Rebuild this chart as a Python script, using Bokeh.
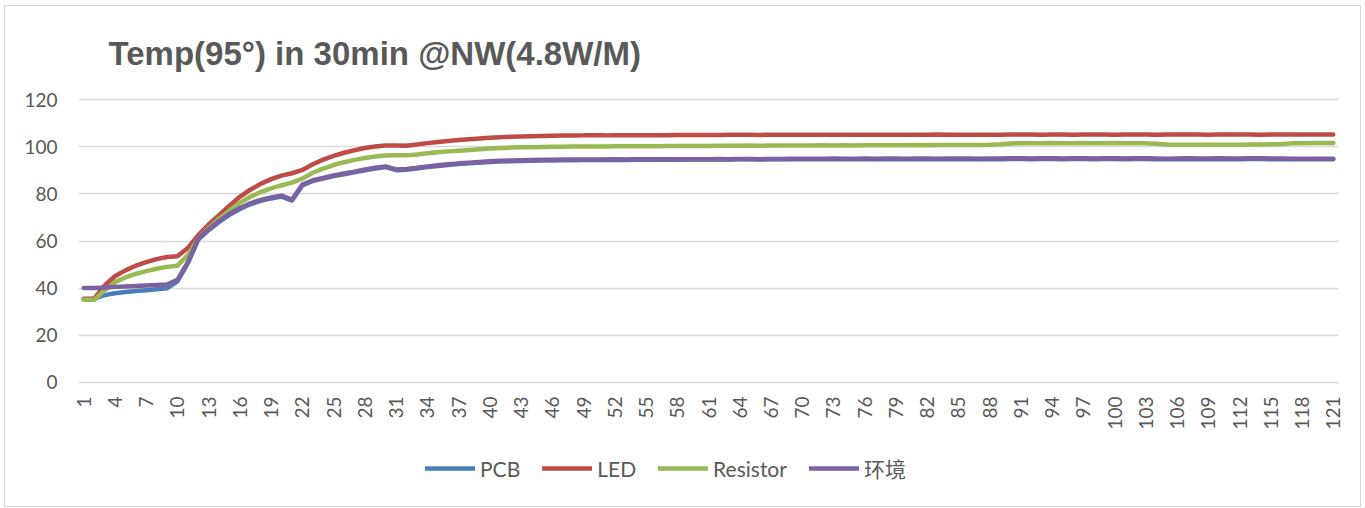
import math
from bokeh.plotting import figure
from bokeh.layouts import column
from bokeh.models import Range1d, FixedTicker, Legend, LegendItem
from bokeh.embed import file_html
from bokeh.resources import INLINE

title_text = "Temp(95°) in 30min @NW(4.8W/M)"

x_index = list(range(1, 122))
x_ticks = list(range(1, 122, 3))
y_ticks = [0, 20, 40, 60, 80, 100, 120]

pcb = [35.0, 35.5, 37.0, 37.8, 38.3, 38.7, 39.1, 39.5, 39.9, 42.8,
       50.5, 60.6, 64.6, 68.1, 71.1, 73.6, 75.6, 77.1, 78.1, 78.9,
       77.2, 83.6, 85.5, 86.5, 87.6, 88.4, 89.2, 90.1, 90.8, 91.4,
       90.1, 90.3, 90.8, 91.4, 91.9, 92.3, 92.7, 93.0, 93.3, 93.6,
       93.8, 93.9, 94.0, 94.1, 94.2, 94.2, 94.3, 94.3, 94.4, 94.4,
       94.4, 94.5, 94.4, 94.5, 94.5, 94.5, 94.6, 94.5, 94.6, 94.6,
       94.6, 94.7, 94.6, 94.7, 94.7, 94.6, 94.7, 94.7, 94.7, 94.7,
       94.7, 94.7, 94.8, 94.7, 94.7, 94.8, 94.7, 94.8, 94.8, 94.7,
       94.8, 94.8, 94.7, 94.8, 94.8, 94.8, 94.7, 94.8, 94.8, 94.9,
       94.9, 94.8, 94.9, 94.9, 94.8, 94.9, 94.9, 94.8, 94.9, 94.9,
       94.8, 94.9, 94.9, 94.8, 94.7, 94.8, 94.9, 94.8, 94.8, 94.9,
       94.8, 94.8, 94.9, 94.9, 94.8, 94.8, 94.7, 94.7, 94.7, 94.7, 94.7]

led = [35.5, 35.5, 41.0, 45.0, 47.5, 49.5, 51.0, 52.3, 53.2, 53.5,
       57.0, 62.5, 67.0, 71.0, 75.0, 78.8, 81.8, 84.3, 86.3, 87.8,
       88.8, 90.2, 92.6, 94.6, 96.2, 97.5, 98.6, 99.5, 100.2, 100.6,
       100.6, 100.5, 101.0, 101.6, 102.1, 102.5, 102.9, 103.3, 103.6, 103.9,
       104.1, 104.3, 104.4, 104.5, 104.6, 104.7, 104.8, 104.8, 104.9, 104.9,
       104.9, 105.0, 105.0, 105.0, 105.0, 105.0, 105.0, 105.1, 105.1, 105.1,
       105.1, 105.1, 105.2, 105.2, 105.2, 105.1, 105.2, 105.2, 105.2, 105.2,
       105.2, 105.2, 105.2, 105.2, 105.2, 105.2, 105.2, 105.2, 105.2, 105.2,
       105.2, 105.2, 105.3, 105.2, 105.2, 105.2, 105.2, 105.2, 105.2, 105.3,
       105.3, 105.3, 105.2, 105.3, 105.3, 105.2, 105.3, 105.3, 105.3, 105.2,
       105.3, 105.3, 105.3, 105.2, 105.3, 105.3, 105.3, 105.3, 105.2, 105.3,
       105.3, 105.3, 105.3, 105.2, 105.3, 105.3, 105.3, 105.3, 105.3, 105.3, 105.3]

resistor = [35.0, 35.0, 39.0, 42.5, 44.5, 46.0, 47.2, 48.2, 49.0, 49.5,
            54.0, 61.0, 65.5, 69.5, 73.0, 76.2, 78.8, 80.8, 82.4, 83.7,
            84.8, 86.5, 89.0, 90.8, 92.3, 93.5, 94.5, 95.3, 95.9, 96.3,
            96.4, 96.4, 96.8, 97.3, 97.7, 98.1, 98.4, 98.7, 99.0, 99.3,
            99.5, 99.7, 99.8, 99.9, 100.0, 100.1, 100.1, 100.2, 100.2, 100.2,
            100.2, 100.3, 100.3, 100.3, 100.3, 100.3, 100.4, 100.4, 100.4, 100.4,
            100.4, 100.5, 100.5, 100.5, 100.6, 100.5, 100.6, 100.6, 100.6, 100.6,
            100.6, 100.7, 100.6, 100.7, 100.6, 100.7, 100.7, 100.7, 100.7, 100.7,
            100.8, 100.7, 100.8, 100.8, 100.8, 100.8, 100.8, 100.9, 101.1, 101.4,
            101.6, 101.6, 101.6, 101.7, 101.6, 101.6, 101.7, 101.6, 101.6, 101.7,
            101.6, 101.6, 101.5, 101.3, 101.0, 100.9, 100.9, 100.9, 100.9, 100.9,
            100.9, 100.9, 101.0, 101.0, 101.1, 101.2, 101.5, 101.6, 101.7, 101.7, 101.7]

env = [40.0, 40.0, 40.2, 40.5, 40.7, 40.9, 41.1, 41.3, 41.5, 43.5,
       51.0, 61.0, 65.0, 68.5, 71.5, 74.0, 76.0, 77.5, 78.5, 79.3,
       77.5, 84.0, 85.8, 86.8, 87.9, 88.7, 89.5, 90.4, 91.1, 91.7,
       90.4, 90.6, 91.1, 91.7, 92.2, 92.6, 93.0, 93.3, 93.6, 93.9,
       94.1, 94.2, 94.3, 94.4, 94.5, 94.5, 94.6, 94.6, 94.6, 94.6,
       94.6, 94.7, 94.6, 94.7, 94.7, 94.7, 94.8, 94.7, 94.8, 94.8,
       94.8, 94.9, 94.8, 94.9, 94.9, 94.8, 94.9, 94.9, 95.0, 95.0,
       95.0, 95.0, 95.1, 95.0, 95.0, 95.1, 95.0, 95.1, 95.1, 95.0,
       95.1, 95.1, 95.0, 95.1, 95.1, 95.1, 95.0, 95.1, 95.1, 95.2,
       95.2, 95.1, 95.2, 95.2, 95.1, 95.2, 95.2, 95.1, 95.2, 95.2,
       95.1, 95.2, 95.2, 95.1, 95.0, 95.1, 95.2, 95.1, 95.1, 95.2,
       95.1, 95.1, 95.2, 95.2, 95.1, 95.1, 95.0, 95.0, 95.0, 95.0, 95.0]

series_names = ["PCB", "LED", "Resistor", "环境"]
series_values = [pcb, led, resistor, env]
series_colors = ["#4A7EBB", "#BE4B48", "#98B954", "#7D60A0"]

GRAY = "#595959"

# ---- main chart ----
p = figure(frame_width=1260, frame_height=287,
           min_border_left=73, min_border_right=22,
           min_border_top=91, min_border_bottom=55,
           x_range=Range1d(0.5, 121.5), y_range=Range1d(-1, 121),
           output_backend="svg", toolbar_location=None,
           background_fill_color="white", border_fill_color="white")
p.outline_line_color = None

for name, vals, col in zip(series_names, series_values, series_colors):
    p.line(x_index, vals, line_color=col, line_width=4.5,
           line_cap="round", line_join="round")

p.title.text = title_text
p.title.align = "left"
p.title.offset = 30
p.title.standoff = 52
p.title.text_font = "Liberation Sans"
p.title.text_font_style = "bold"
p.title.text_font_size = "33px"
p.title.text_color = GRAY

p.yaxis.ticker = FixedTicker(ticks=y_ticks)
p.xaxis.ticker = FixedTicker(ticks=x_ticks)
for ax in (p.xaxis, p.yaxis):
    ax.axis_line_color = None
    ax.major_tick_line_color = None
    ax.minor_tick_line_color = None
    ax.major_tick_out = 0
    ax.major_tick_in = 0
    ax.major_label_text_font = "Lato"
    ax.major_label_text_font_size = "19px"
    ax.major_label_text_color = GRAY
p.yaxis.major_label_standoff = 21
p.xaxis.major_label_standoff = 12
p.xaxis.major_label_orientation = math.pi / 2

p.xgrid.grid_line_color = None
p.ygrid.ticker = FixedTicker(ticks=y_ticks)
p.ygrid.grid_line_color = "#d9d9d9"
p.ygrid.grid_line_width = 1.5

# ---- legend strip (same series, plotted outside its visible range) ----
lg = figure(width=1355, height=67, min_border=0,
            x_range=Range1d(0.5, 121.5), y_range=Range1d(1000, 1001),
            x_axis_type=None, y_axis_type=None,
            output_backend="svg", toolbar_location=None,
            background_fill_color="white", border_fill_color="white")
lg.outline_line_color = None
lg.grid.visible = False

items = []
for name, vals, col in zip(series_names, series_values, series_colors):
    r = lg.line(x_index, vals, line_color=col, line_width=4.5, line_cap="round")
    items.append(LegendItem(label=name, renderers=[r]))

legend = Legend(items=items, orientation="horizontal", location=(347, 23),
                margin=0, padding=0, spacing=22, label_standoff=5,
                glyph_width=50, glyph_height=20, label_height=20,
                label_text_font="Lato, Noto Sans CJK SC",
                label_text_font_size="21px", label_text_color=GRAY,
                border_line_color=None, background_fill_alpha=0)
lg.add_layout(legend, "center")

layout = column(p, lg, spacing=0,
                styles={"border": "1px solid #d9d9d9",
                        "margin-left": "4px", "margin-top": "5px"})

open("out.html", "w").write(file_html(layout, INLINE))
